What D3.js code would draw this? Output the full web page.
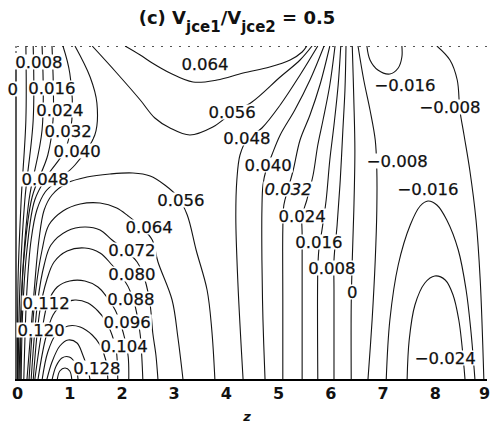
<!DOCTYPE html>
<html><head><meta charset="utf-8">
<script src="https://cdn.jsdelivr.net/npm/d3@7"></script>
<style>
html,body{margin:0;padding:0;background:#fff;}
svg{display:block;}
</style></head><body>
<script>
// ---- data (z along x axis 0..9, h = height above bottom edge, 0..3.34) ----
const xTicks = [0,1,2,3,4,5,6,7,8,9];

// contours that come down from the top-left edge
const c008 = [[0.17,3.34],[0.17,2.60],[0.08,1.80],[0.02,1.00],[0.01,0]];
const c016 = [[0.31,3.34],[0.31,2.60],[0.15,1.80],[0.06,1.00],[0.02,0]];
const c024 = [[0.48,3.34],[0.48,2.50],[0.23,1.80],[0.10,1.00],[0.04,0]];
const c032 = [[0.67,3.34],[0.69,2.60],[0.59,2.25],[0.29,1.83],[0.13,1.20],[0.08,0.60],[0.06,0]];
const c040 = [[0.88,3.34],[1.01,3.07],[1.05,2.60],[0.92,2.30],[0.59,2.05],[0.34,1.80],[0.19,1.30],[0.11,0.70],[0.08,0]];
const c048a = [[1.11,3.34],[1.40,3.03],[1.53,2.77],[1.49,2.45],[1.11,2.15],[0.79,2.00],[0.54,1.88],[0.38,1.70],[0.27,1.40],[0.19,0.90],[0.13,0]];

// dome-shaped contours over the bottom-left maximum
const d056 = [[0.19,0],[0.33,0.90],[0.42,1.40],[0.52,1.70],[0.67,1.85],[0.96,1.97],[1.34,2.03],[1.78,2.06],[2.22,2.07],[2.55,2.04],[2.83,1.95],[3.08,1.83],[3.26,1.65],[3.43,1.30],[3.64,0.90],[3.73,0.50],[3.79,0]];
const d064 = [[0.23,0],[0.36,0.90],[0.48,1.30],[0.61,1.55],[0.88,1.69],[1.21,1.76],[1.59,1.77],[1.91,1.72],[2.13,1.64],[2.36,1.54],[2.59,1.40],[2.70,1.18],[2.97,0.80],[3.08,0.43],[3.18,0]];
const d072 = [[0.27,0],[0.40,0.80],[0.52,1.15],[0.65,1.35],[0.96,1.49],[1.30,1.53],[1.59,1.50],[1.82,1.40],[2.07,1.30],[2.30,1.18],[2.45,1.00],[2.55,0.75],[2.60,0.47],[2.66,0.25],[2.70,0]];
const d080 = [[0.31,0],[0.44,0.70],[0.57,1.00],[0.71,1.18],[0.96,1.29],[1.30,1.32],[1.59,1.27],[1.82,1.15],[2.03,1.02],[2.20,0.85],[2.30,0.65],[2.36,0.45],[2.39,0.23],[2.41,0]];
const d088 = [[0.34,0],[0.48,0.50],[0.59,0.77],[0.77,0.93],[1.01,0.99],[1.30,0.99],[1.55,0.93],[1.72,0.83],[1.88,0.70],[1.99,0.55],[2.07,0.40],[2.13,0.23],[2.14,0]];
const d096 = [[0.40,0],[0.54,0.40],[0.69,0.65],[0.88,0.76],[1.11,0.80],[1.36,0.77],[1.55,0.69],[1.70,0.59],[1.82,0.45],[1.90,0.30],[1.93,0]];
const d104 = [[0.48,0],[0.59,0.28],[0.75,0.46],[0.98,0.54],[1.21,0.53],[1.44,0.45],[1.59,0.35],[1.70,0.20],[1.74,0]];
const d112 = [[0.57,0],[0.67,0.18],[0.82,0.34],[0.98,0.40],[1.15,0.37],[1.26,0.25],[1.36,0.10],[1.40,0]];
const d120 = [[0.67,0],[0.75,0.14],[0.86,0.22],[1.00,0.23],[1.11,0.17],[1.17,0]];
const d128 = [[0.77,0],[0.82,0.09],[0.92,0.12],[1.01,0.09],[1.05,0]];

// upper arcs ending in the singular point on the top edge
const u056 = [[1.44,3.34],[1.91,3.07],[2.36,2.80],[2.64,2.62],[2.93,2.52],[3.31,2.45],[3.75,2.53],[4.12,2.67],[4.50,2.78],[5.04,3.03],[5.42,3.20],[5.65,3.34]];
const u064 = [[2.07,3.34],[2.36,3.25],[2.59,3.17],[2.93,3.07],[3.37,2.98],[3.83,3.00],[4.33,3.07],[4.84,3.13],[5.23,3.20],[5.46,3.28],[5.55,3.34]];

// fan of contours from the top singular point down to the bottom
const f048 = [[5.76,3.34],[5.42,3.05],[5.04,2.75],[4.69,2.52],[4.40,2.40],[4.27,2.25],[4.21,2.00],[4.19,1.63],[4.23,0.97],[4.33,0]];
const f040 = [[5.88,3.34],[5.61,3.00],[5.32,2.70],[5.04,2.45],[4.88,2.25],[4.77,2.10],[4.71,1.95],[4.69,1.70],[4.69,1.20],[4.71,0.60],[4.75,0]];
const f032 = [[5.99,3.34],[5.80,2.95],[5.61,2.65],[5.42,2.40],[5.29,2.10],[5.19,1.91],[5.11,1.75],[5.09,1.50],[5.09,0.80],[5.09,0]];
const f024 = [[6.09,3.34],[5.99,2.95],[5.86,2.60],[5.76,2.35],[5.67,2.05],[5.55,1.80],[5.46,1.64],[5.46,1.45],[5.46,0]];
const f016 = [[6.20,3.34],[6.15,2.95],[6.07,2.55],[5.99,2.20],[5.92,1.80],[5.84,1.50],[5.78,1.30],[5.76,1.10],[5.76,0]];
const f008 = [[6.30,3.34],[6.28,2.90],[6.24,2.50],[6.19,2.00],[6.13,1.55],[6.07,1.20],[6.07,0.90],[6.07,0]];
const f000 = [[6.42,3.34],[6.45,2.80],[6.47,2.30],[6.45,1.70],[6.42,1.20],[6.40,0.75],[6.40,0]];
const fm008 = [[6.53,3.34],[6.64,3.00],[6.76,2.70],[6.86,2.40],[6.89,2.10],[6.89,1.70],[6.86,1.20],[6.80,0.60],[6.72,0]];

// negative region on the right
const tm016 = [[6.70,3.34],[6.76,3.20],[6.91,3.10],[7.14,3.06],[7.30,3.12],[7.37,3.23],[7.37,3.34]];
const rm008 = [[8.04,3.34],[8.29,3.20],[8.43,3.00],[8.48,2.70],[8.56,2.45],[8.67,2.10],[8.79,1.60],[8.87,1.00],[8.94,0]];
const dm016 = [[7.07,0],[7.14,0.60],[7.30,1.15],[7.53,1.55],[7.72,1.74],[7.87,1.79],[8.04,1.75],[8.23,1.60],[8.45,1.30],[8.60,0.90],[8.69,0.50],[8.77,0]];
const dm024 = [[7.47,0],[7.51,0.40],[7.62,0.75],[7.81,0.97],[8.00,1.04],[8.20,1.00],[8.35,0.85],[8.46,0.60],[8.52,0.35],[8.58,0]];

const contourLines = [c008,c016,c024,c032,c040,c048a,
  d056,d064,d072,d080,d088,d096,d104,d112,d120,d128,
  u056,u064,f048,f040,f032,f024,f016,f008,f000,fm008,
  tm016,rm008,dm016,dm024];

// contour labels
const labelText = ["0.064","0","0.008","0.016","0.024","0.032","0.040","0.048",
  "0.056","0.048","0.040","0.032","0.024","0.016","0.008","0",
  "\u22120.008","\u22120.016","\u22120.024","\u22120.016","\u22120.008",
  "0.056","0.064","0.072","0.080","0.088","0.096","0.104","0.112","0.120","0.128"];
const labelZ = [3.60,-0.08,0.42,0.67,0.82,0.98,1.15,0.54,
  4.12,4.40,4.81,5.19,5.46,5.78,6.03,6.42,
  7.28,7.87,8.20,7.43,8.29,
  3.14,2.53,2.20,2.20,2.18,2.11,2.05,0.56,0.46,1.53];
const labelH = [3.16,2.91,3.18,2.92,2.70,2.49,2.29,2.01,
  2.68,2.42,2.15,1.91,1.64,1.38,1.12,0.88,
  2.19,1.91,0.22,2.95,2.73,
  1.80,1.53,1.30,1.06,0.81,0.58,0.34,0.77,0.50,0.12];
const labelItalic = [11];

const titleMain = "(c) V";
const titleSub1 = "jce1";
const titleMid = "/V";
const titleSub2 = "jce2";
const titleEnd = " = 0.5";
const xTitle = "z";

// ---- drawing ----
const W = 490, H = 424;
const x = d3.scaleLinear().domain([0, 9]).range([17, 487]);
const y = d3.scaleLinear().domain([0, 3.34]).range([380, 46]);

const svg = d3.select("body").append("svg").attr("width", W).attr("height", H);

svg.append("defs").append("clipPath").attr("id", "plotclip")
  .append("rect").attr("x", x(0)).attr("y", y(3.34))
  .attr("width", x(9) - x(0)).attr("height", y(0) - y(3.34));

// frame: dotted top edge, left edge
svg.append("line").attr("x1", x(0)).attr("x2", x(9)).attr("y1", y(3.34) + 0.5).attr("y2", y(3.34) + 0.5)
  .attr("stroke", "#555").attr("stroke-width", 1.2).attr("stroke-dasharray", "2,7");
svg.append("line").attr("x1", x(0) - 1).attr("x2", x(0) - 1).attr("y1", y(3.34)).attr("y2", y(3.20))
  .attr("stroke", "#444").attr("stroke-width", 1.2).attr("stroke-dasharray", "2,3");
svg.append("line").attr("x1", x(0) - 1).attr("x2", x(0) - 1).attr("y1", y(3.20)).attr("y2", y(0))
  .attr("stroke", "#111").attr("stroke-width", 1.4);

const line = d3.line().x(d => x(d[0])).y(d => y(d[1])).curve(d3.curveCatmullRom.alpha(0.5));

svg.append("g").attr("clip-path", "url(#plotclip)")
  .selectAll("path").data(contourLines).join("path")
  .attr("d", line).attr("fill", "none").attr("stroke", "#141414").attr("stroke-width", 1.1);

// labels with white knock-out boxes
const lg = svg.append("g");
labelText.forEach((t, i) => {
  const g = lg.append("g");
  const txt = g.append("text")
    .attr("x", x(labelZ[i])).attr("y", y(labelH[i]))
    .attr("text-anchor", "middle").attr("dominant-baseline", "central")
    .attr("font-family", "DejaVu Sans").attr("font-size", 16.5)
    .attr("font-style", labelItalic.includes(i) ? "italic" : "normal")
    .attr("fill", "#111").attr("stroke", "#111").attr("stroke-width", 0.25)
    .text(t);
  const b = txt.node().getBBox();
  g.insert("rect", "text").attr("x", b.x - 1).attr("y", b.y + 2)
    .attr("width", b.width + 2).attr("height", b.height - 4).attr("fill", "#fff");
});

// x axis
const ax = svg.append("g").attr("transform", `translate(0,${y(0)})`)
  .call(d3.axisBottom(x).tickValues(xTicks).tickSize(0).tickPadding(8).tickFormat(d3.format("d")));
ax.select(".domain").attr("stroke", "#000").attr("stroke-width", 1.8).attr("d", `M${x(0) - 2},0H${x(9)}`);
ax.selectAll("text").attr("font-family", "DejaVu Sans").attr("font-weight", "bold")
  .attr("font-size", 16).attr("fill", "#111")
  .attr("dx", d => d === 9 ? -3 : 0);

svg.append("text").attr("x", 247).attr("y", 421).attr("text-anchor", "middle")
  .attr("font-family", "DejaVu Sans").attr("font-style", "italic").attr("font-weight", "bold")
  .attr("font-size", 13).attr("fill", "#111").text(xTitle);

// title
const tt = svg.append("text").attr("x", 237).attr("y", 24).attr("text-anchor", "middle")
  .attr("font-family", "DejaVu Sans").attr("font-weight", "bold").attr("font-size", 18).attr("fill", "#111");
tt.append("tspan").text(titleMain);
tt.append("tspan").attr("font-size", 15).attr("dy", 8).text(titleSub1);
tt.append("tspan").attr("dy", -8).text(titleMid);
tt.append("tspan").attr("font-size", 15).attr("dy", 8).text(titleSub2);
tt.append("tspan").attr("dy", -8).text(titleEnd);
</script>
</body></html>
